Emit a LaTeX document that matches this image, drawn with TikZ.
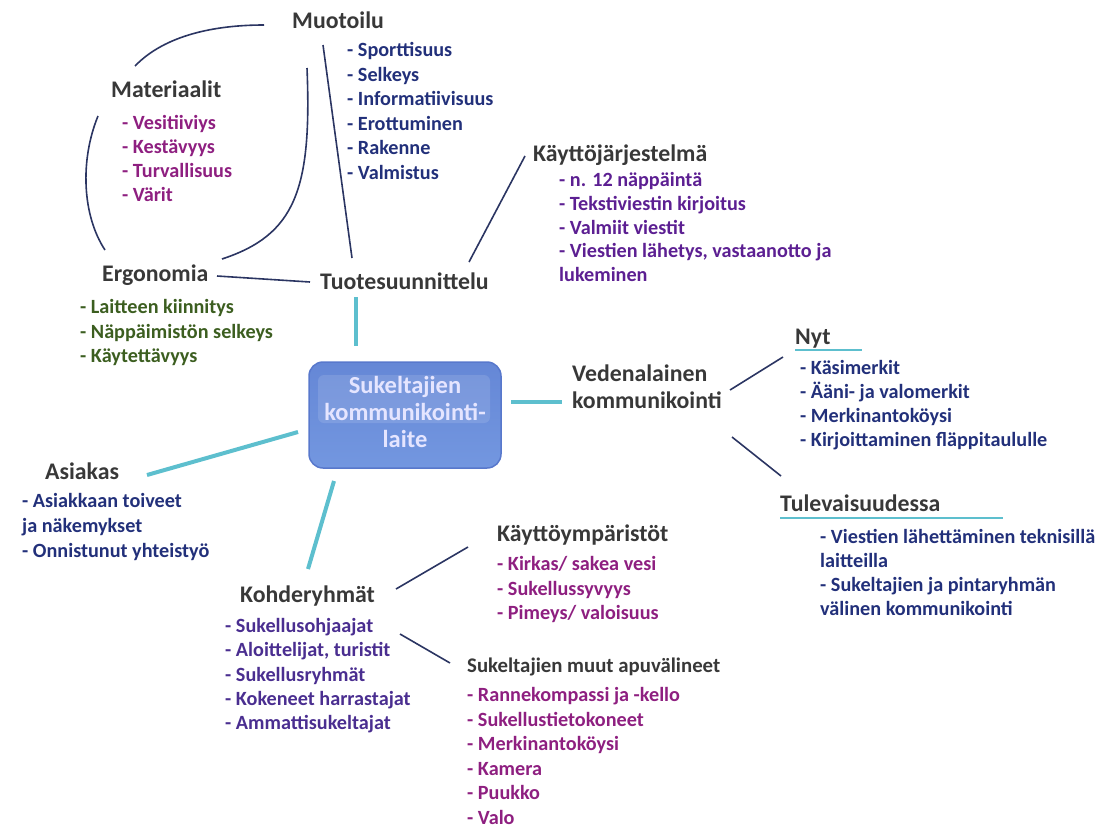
\documentclass[tikz,border=0pt]{standalone}
\usepackage{fontspec}
\setmainfont{Carlito}
\usetikzlibrary{positioning}

\definecolor{headgray}{HTML}{383838}
\definecolor{navy}{HTML}{22307A}
\definecolor{magenta}{HTML}{8E1F80}
\definecolor{violet}{HTML}{5C1F92}
\definecolor{bluevio}{HTML}{4A2E90}
\definecolor{olive}{HTML}{3C5E20}
\definecolor{linknavy}{HTML}{2B3562}
\definecolor{spoketeal}{HTML}{5DBFCE}
\definecolor{devtop}{HTML}{6587D6}
\definecolor{devbottom}{HTML}{7397E0}
\definecolor{devborder}{HTML}{5878CC}

\begin{document}
\begin{tikzpicture}[x=1pt,y=-1pt,
    head/.style={anchor=base west, inner sep=0pt, text=headgray,
        font=\fontsize{23.8}{27}\selectfont\bfseries},
    item/.style={anchor=base west, inner sep=0pt,
        font=\fontsize{20.2}{24}\selectfont\bfseries},
    link/.style={draw=linknavy, line width=1.6pt},
    spoke/.style={draw=spoketeal, line width=4pt},
    underl/.style={draw=spoketeal, line width=2pt},
    device/.style={draw=devborder, line width=1.5pt, rounded corners=14pt,
        top color=devtop, bottom color=devbottom,
        minimum width=192pt, minimum height=106pt, align=center, text depth=6pt,
        text=white!90!blue, font=\fontsize{24.5}{27}\selectfont\bfseries,
        path picture={\fill[white, opacity=.12, rounded corners=6pt]
            ([xshift=9pt,yshift=-13pt]path picture bounding box.north west)
            rectangle ([xshift=-11pt,yshift=-8pt]path picture bounding box.east);}}
    ]
    \useasboundingbox (0,0) rectangle (1107,830);

    % centre
    \node[device] (device) at (405,415) {Sukeltajien\\kommunikointi-\\laite};

    % headings
    \node[head] (muotoilu) at (292,28) {Muotoilu};
    \node[head] (materiaalit) at (111,97) {Materiaalit};
    \node[head] (kjarj) at (533,161) {Käyttöjärjestelmä};
    \node[head] (ergonomia) at (102,281) {Ergonomia};
    \node[head] (tuote) at (320,289) {Tuotesuunnittelu};
    \node[head, align=left] (veden) at (572,408) {Vedenalainen\\kommunikointi};
    \node[head] (nyt) at (795,344) {Nyt};
    \node[head] (tulev) at (780,511) {Tulevaisuudessa};
    \node[head] (asiakas) at (45,479) {Asiakas};
    \node[head] (kohder) at (240,602) {Kohderyhmät};
    \node[head] (kymp) at (497,541) {Käyttöympäristöt};
    \node[head, font=\fontsize{20.8}{24}\selectfont\bfseries] (apuv) at (467,672)
        {Sukeltajien muut apuvälineet};

    % item lists
    \foreach \txt [count=\i] in {- Sporttisuus, - Selkeys, - Informatiivisuus,
            - Erottuminen, - Rakenne, - Valmistus}
        \node[item, text=navy] (muotoilu-\i) at (347,{56.5+24.5*(\i-1)}) {\txt};
    \foreach \txt [count=\i] in {- Vesitiiviys, - Kestävyys, - Turvallisuus, - Värit}
        \node[item, text=magenta] (materiaalit-\i) at (122,{129.5+24*(\i-1)}) {\txt};
    \foreach \txt [count=\i] in {- n. 12 näppäintä, - Tekstiviestin kirjoitus,
            - Valmiit viestit, {- Viestien lähetys, vastaanotto ja}, lukeminen}
        \node[item, text=violet] (kjarj-\i) at (559,{186.5+23.8*(\i-1)}) {\txt};
    \foreach \txt [count=\i] in {- Laitteen kiinnitys, - Näppäimistön selkeys,
            - Käytettävyys}
        \node[item, text=olive] (ergonomia-\i) at (80,{313.5+24.5*(\i-1)}) {\txt};
    \foreach \txt [count=\i] in {- Käsimerkit, - Ääni- ja valomerkit,
            - Merkinantoköysi, - Kirjoittaminen fläppitaululle}
        \node[item, text=navy] (nyt-\i) at (800,{374.5+24*(\i-1)}) {\txt};
    \foreach \txt [count=\i] in {- Viestien lähettäminen teknisillä, laitteilla,
            - Sukeltajien ja pintaryhmän, välinen kommunikointi}
        \node[item, text=navy] (tulev-\i) at (820,{543.5+24*(\i-1)}) {\txt};
    \foreach \txt [count=\i] in {- Asiakkaan toiveet, ja näkemykset,
            - Onnistunut yhteistyö}
        \node[item, text=navy] (asiakas-\i) at (22,{507.5+25*(\i-1)}) {\txt};
    \foreach \txt [count=\i] in {- Sukellusohjaajat, {- Aloittelijat, turistit},
            - Sukellusryhmät, - Kokeneet harrastajat, - Ammattisukeltajat}
        \node[item, text=bluevio] (kohder-\i) at (225,{632.5+24.3*(\i-1)}) {\txt};
    \foreach \txt [count=\i] in {- Kirkas/ sakea vesi, - Sukellussyvyys,
            - Pimeys/ valoisuus}
        \node[item, text=magenta] (kymp-\i) at (497,{570.5+24.5*(\i-1)}) {\txt};
    \foreach \txt [count=\i] in {- Rannekompassi ja -kello, - Sukellustietokoneet,
            - Merkinantoköysi, - Kamera, - Puukko, - Valo}
        \node[item, text=magenta] (apuv-\i) at (467,{701.5+24.6*(\i-1)}) {\txt};

    % connector ends
    \coordinate (m1) at (323,45);   \coordinate (t1) at (352,258);
    \coordinate (e1) at (217,276);  \coordinate (t2) at (310,282);
    \coordinate (k1) at (525,156);  \coordinate (t3) at (469,262);
    \coordinate (a1) at (135,66);   \coordinate (a2) at (264,25);
    \coordinate (b1) at (98,116);   \coordinate (b2) at (105,250);
    \coordinate (c1) at (307,68);   \coordinate (c2) at (222,259);
    \coordinate (v1) at (730,390);  \coordinate (n1) at (783,357);
    \coordinate (v2) at (732,437);  \coordinate (u1) at (781,476);
    \coordinate (h1) at (396,589);  \coordinate (y1) at (468,547);
    \coordinate (h2) at (400,634);  \coordinate (s1) at (450,663);
    \coordinate (t4) at (356,297);  \coordinate (d1) at (356,346);
    \coordinate (d2) at (511,402);  \coordinate (v3) at (562,402);
    \coordinate (d3) at (298,432);  \coordinate (q1) at (147,475);
    \coordinate (d4) at (334,481);  \coordinate (h3) at (308,569);

    % thin links
    \draw[link] (m1) -- (t1);
    \draw[link] (e1) -- (t2);
    \draw[link] (k1) -- (t3);
    \draw[link] (a1) .. controls (165,35) and (215,25) .. (a2);
    \draw[link] (b1) .. controls (80,160) and (82,215) .. (b2);
    \draw[link] (c1) .. controls (312,190) and (295,235) .. (c2);
    \draw[link] (v1) -- (n1);
    \draw[link] (v2) -- (u1);
    \draw[link] (h1) -- (y1);
    \draw[link] (h2) -- (s1);

    % thick spokes
    \draw[spoke] (t4) -- (d1);
    \draw[spoke] (d2) -- (v3);
    \draw[spoke] (d3) -- (q1);
    \draw[spoke] (d4) -- (h3);

    % underlines
    \draw[underl] (nyt.base west) ++(0,6) -- ++(67,0);
    \draw[underl] (tulev.base west) ++(0,7) -- ++(223,0);
\end{tikzpicture}
\end{document}
